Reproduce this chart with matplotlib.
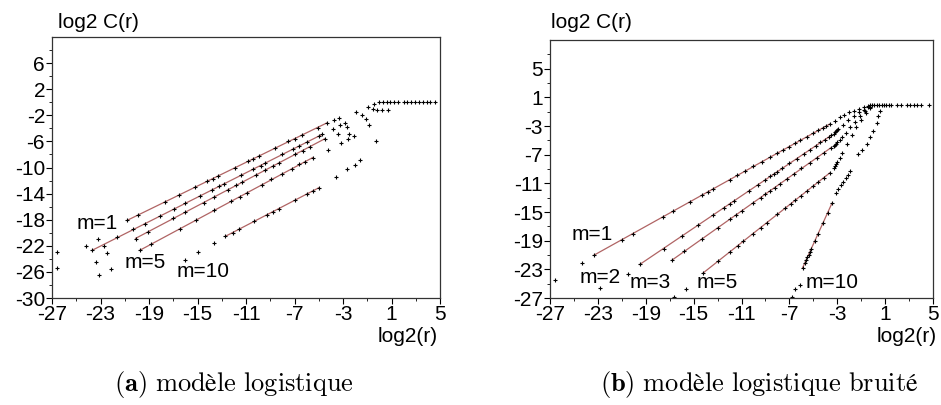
import numpy as np
import matplotlib
matplotlib.use("Agg")
import matplotlib.pyplot as plt

plt.rcParams["font.family"] = ["Liberation Sans", "DejaVu Sans"]
plt.rcParams["axes.unicode_minus"] = False
plt.rcParams["mathtext.fontset"] = "cm"

# (a) modele logistique : points retenus pour la regression
a_x1 = [-20.8, -19.9, -17.7, -16.5, -15.2, -14.2, -13.7, -13.3, -11.9, -10.8, -10.4, -9.9, -8.6, -7.5, -7.0, -6.4, -5.1, -4.3]
a_y1 = [-18.1, -17.3, -15.3, -14.2, -13.0, -12.1, -11.7, -11.3, -10.0, -9.0, -8.7, -8.2, -7.0, -6.0, -5.6, -5.0, -3.9, -3.2]
a_x2 = [-23.7, -21.6, -20.3, -19.3, -18.1, -16.9, -16.0, -14.8, -13.8, -13.2, -12.8, -11.4, -10.4, -9.8, -9.4, -8.0, -7.1, -6.6, -6.0, -5.0, -4.7]
a_y2 = [-22.7, -20.7, -19.5, -18.6, -17.5, -16.3, -15.5, -14.4, -13.4, -12.9, -12.5, -11.2, -10.2, -9.7, -9.3, -8.0, -7.2, -6.7, -6.1, -5.2, -4.9]
a_x3 = [-20.1, -19.1, -17.0, -16.0, -14.5, -13.6, -12.5, -11.8, -11.3, -10.2, -9.4, -8.8, -8.3, -7.0, -6.3, -5.7, -4.5]
a_y3 = [-20.9, -19.9, -17.8, -16.8, -15.4, -14.5, -13.4, -12.7, -12.2, -11.2, -10.4, -9.8, -9.3, -8.0, -7.4, -6.8, -5.6]
a_x5 = [-19.75, -18.8, -16.45, -15.1, -13.6, -12.2, -11.5, -10.9, -9.7, -8.9, -8.0, -7.2, -6.6, -6.1, -5.5]
a_y5 = [-22.7, -21.7, -19.4, -18.1, -16.5, -15.1, -14.5, -13.9, -12.7, -11.8, -11.0, -10.2, -9.5, -9.1, -8.5]
a_x10 = [-12.7, -12.1, -11.6, -10.3, -9.3, -8.8, -8.3, -7.0, -6.0, -5.5, -5.0]
a_y10 = [-20.5, -20.0, -19.5, -18.2, -17.3, -16.8, -16.3, -15.0, -14.1, -13.6, -13.1]
# autres points (hors regression)
a_ox = [-26.6, -26.6, -24.2, -23.2, -22.7, -22.5, -23.4, -22.1, -23.1, -16.0, -15.0, -13.6,
        -4.2, -3.8, -3.75, -3.4, -3.35, -3.25, -3.2, -2.85, -2.7, -2.6, -2.5, -2.1,
        -3.6, -2.7, -2.0, -1.6,
        -1.9, -1.45, -1.1, -0.85, -0.3, -0.95, -0.45, -0.5, -0.2, 0.2, 0.7,
        0.0, 0.3, 0.6, 0.9, 1.2, 1.5, 2.0, 2.3, 2.6, 2.9, 3.3, 3.6, 3.9, 4.2, 4.6]
a_oy = [-23.0, -25.4, -22.1, -20.9, -22.1, -23.1, -24.5, -25.6, -26.5, -24.1, -23.0, -21.6,
        -7.3, -4.1, -2.7, -4.85, -2.4, -3.5, -6.2, -3.2, -3.8, -5.6, -4.85, -5.2,
        -11.5, -10.3, -9.6, -8.8,
        -1.5, -2.0, -2.6, -3.5, -5.9, -0.7, -0.3, -1.0, -1.2, -1.2, -1.2,
        0, 0, 0, 0, 0, 0, 0, 0, 0, 0, 0, 0, 0, 0, 0]

# (b) modele logistique bruite
b_x1 = [-23.3, -21.0, -20.1, -17.6, -16.7, -15.3, -14.3, -13.8, -13.4, -12.0, -11.4, -10.7, -10.0, -9.3, -8.6, -8.0, -7.5, -7.0, -6.5, -6.1, -5.5, -5.0, -4.6, -4.2, -3.9, -3.6]
b_y1 = [-21.0, -18.9, -18.0, -15.7, -14.9, -13.6, -12.6, -12.2, -11.8, -10.5, -9.9, -9.3, -8.6, -8.0, -7.3, -6.8, -6.3, -5.9, -5.4, -5.0, -4.5, -4.0, -3.6, -3.3, -3.0, -2.7]
b_x2 = [-19.5, -17.5, -16.0, -14.6, -13.4, -12.5, -12.0, -11.6, -10.4, -9.6, -9.0, -8.6, -8.3, -8.0, -7.6, -7.0, -6.4, -5.8, -5.3, -4.8, -4.4, -4.0, -3.7, -3.5]
b_y2 = [-22.3, -20.1, -18.4, -16.8, -15.4, -14.4, -13.9, -13.4, -12.1, -11.2, -10.5, -10.0, -9.7, -9.4, -8.9, -8.2, -7.6, -6.9, -6.3, -5.8, -5.3, -4.9, -4.5, -4.3]
b_x3 = [-16.8, -15.8, -14.3, -13.0, -12.0, -11.5, -11.0, -10.0, -9.4, -9.0, -8.6, -8.2, -7.8, -7.2, -6.6, -6.0, -5.3, -4.7, -4.1, -3.5]
b_y3 = [-21.7, -20.5, -18.8, -17.2, -16.0, -15.4, -14.9, -13.7, -13.0, -12.5, -12.0, -11.6, -11.1, -10.4, -9.7, -8.9, -8.1, -7.4, -6.7, -6.0]
b_x5 = [-14.2, -13.0, -12.0, -11.3, -10.9, -10.0, -9.4, -8.9, -8.0, -7.4, -6.9, -6.5, -6.0, -5.5, -5.0, -4.6, -4.1, -3.6]
b_y5 = [-23.5, -21.9, -20.6, -19.7, -19.1, -18.0, -17.2, -16.5, -15.3, -14.5, -13.9, -13.3, -12.7, -12.0, -11.4, -10.8, -10.2, -9.5]
b_x10 = [-5.9, -5.7, -5.6, -5.5, -5.4, -5.3, -5.2, -4.9, -4.6, -4.2, -3.8, -3.45]
b_y10 = [-22.8, -22.1, -21.7, -21.3, -21.0, -20.6, -20.2, -19.1, -18.0, -16.6, -15.1, -13.8]
b_ox = [-26.6, -24.3, -22.8, -20.5, -16.6, -15.6, -6.8, -6.5, -6.1,
        -3.2, -2.8, -2.4, -2.0, -1.6, -1.2, -0.8, -0.4,
        -3.3, -3.2, -3.1, -3.0, -2.9, -2.5, -2.1, -1.6, -1.2, -0.8, -0.4,
        -3.3, -3.2, -3.1, -3.0, -2.8, -2.6, -2.3, -1.9, -1.5, -1.1, -0.7, -0.3,
        -3.3, -3.2, -3.1, -3.0, -2.8, -2.6, -2.2, -1.8, -1.4, -1.0, -0.6, -0.3,
        -3.1, -2.9, -2.7, -2.5, -2.3, -2.1, -1.9, -1.3, -0.9, -0.5, -0.27, 0.0, 0.3, 0.4, 0.6,
        -0.3, -0.1, 0.1, 0.3, 0.5, 0.7, 0.9, 1.1, 1.3, 1.5, 2.0, 2.3, 2.8, 3.1, 3.4, 3.7, 4.0, 4.7]
b_oy = [-24.5, -22.1, -25.6, -23.7, -26.9, -25.8, -26.9, -25.8, -25.2,
        -2.3, -1.7, -1.4, -1.1, -0.9, -0.6, -0.4, -0.15,
        -4.1, -3.9, -3.7, -3.5, -3.4, -2.8, -2.2, -1.6, -1.1, -0.7, -0.3,
        -5.8, -5.6, -5.45, -5.3, -5.0, -4.6, -4.0, -3.2, -2.4, -1.6, -0.9, -0.3,
        -8.9, -8.6, -8.3, -8.0, -7.4, -6.7, -5.5, -4.3, -3.2, -2.2, -1.2, -0.5,
        -12.3, -11.8, -11.3, -10.8, -10.3, -9.8, -9.3, -6.9, -6.4, -5.5, -4.6, -3.7, -2.6, -1.6, -0.9,
        0, 0, 0, 0, 0, 0, 0, 0, 0, 0, 0, 0, 0, 0, 0, 0, 0, 0]

a_labels = [("m=1", -23.3, -18.6), ("m=5", -19.3, -24.5), ("m=10", -14.5, -25.9)]
b_labels = [("m=1", -23.5, -18.1), ("m=2", -22.8, -24.1), ("m=3", -18.6, -24.9),
            ("m=5", -13.0, -24.9), ("m=10", -3.4, -24.8)]

FS = 15
RED = "#b06464"

fig = plt.figure(figsize=(9.41, 4.05), dpi=100)
ax1 = fig.add_axes([52 / 941, 1 - 298 / 405, 388 / 941, 261 / 405])
ax2 = fig.add_axes([550 / 941, 1 - 298 / 405, 383 / 941, 258 / 405])


def draw(ax, series, ox, oy, labels):
    for xs, ys in series:
        xs = np.array(xs)
        ys = np.array(ys)
        p = np.polyfit(xs, ys, 1)
        xx = np.array([xs.min(), xs.max()])
        ax.plot(xx, np.polyval(p, xx), color=RED, lw=0.9, zorder=1)
        ax.plot(xs, ys, "+", color="black", ms=3.2, mew=0.8, zorder=2)
    ax.plot(ox, oy, "+", color="black", ms=3.2, mew=0.8, zorder=2)
    for t, x, y in labels:
        ax.text(x, y, t, fontsize=FS, ha="center", va="center")
    for s in ax.spines.values():
        s.set_linewidth(0.9)
        s.set_color("#333333")
    ax.tick_params(which="both", direction="out", labelsize=FS, pad=1)
    ax.tick_params(which="major", length=4)
    ax.tick_params(which="minor", length=2.5)
    ax.set_xlim(-27, 5)
    ax.set_xticks(np.arange(-27, 6, 4))
    ax.set_xticks(np.arange(-25, 5, 4), minor=True)


draw(ax1, [(a_x1, a_y1), (a_x2, a_y2), (a_x3, a_y3), (a_x5, a_y5), (a_x10, a_y10)],
     a_ox, a_oy, a_labels)
ax1.set_ylim(-30, 10)
ax1.set_yticks(np.arange(-30, 7, 4))
ax1.set_yticks(np.arange(-28, 10, 4), minor=True)

draw(ax2, [(b_x1, b_y1), (b_x2, b_y2), (b_x3, b_y3), (b_x5, b_y5), (b_x10, b_y10)],
     b_ox, b_oy, b_labels)
ax2.set_ylim(-27, 9)
ax2.set_yticks(np.arange(-27, 6, 4))
ax2.set_yticks(np.arange(-25, 8, 4), minor=True)

fig.text(58 / 941, 1 - 23 / 405, "log2 C(r)", fontsize=FS, va="center")
fig.text(551 / 941, 1 - 23 / 405, "log2 C(r)", fontsize=FS, va="center")
fig.text(378 / 941, 1 - 337 / 405, "log2(r)", fontsize=FS, va="center")
fig.text(877 / 941, 1 - 337 / 405, "log2(r)", fontsize=FS, va="center")

fig.text(234 / 941, 1 - 385 / 405, r"$\mathbf{(a)}\ \mathrm{modèle\ logistique}$",
         fontsize=19, ha="center", va="center")
fig.text(759 / 941, 1 - 385 / 405, r"$\mathbf{(b)}\ \mathrm{modèle\ logistique\ bruité}$",
         fontsize=19, ha="center", va="center")

fig.savefig("out.png", dpi=100)
